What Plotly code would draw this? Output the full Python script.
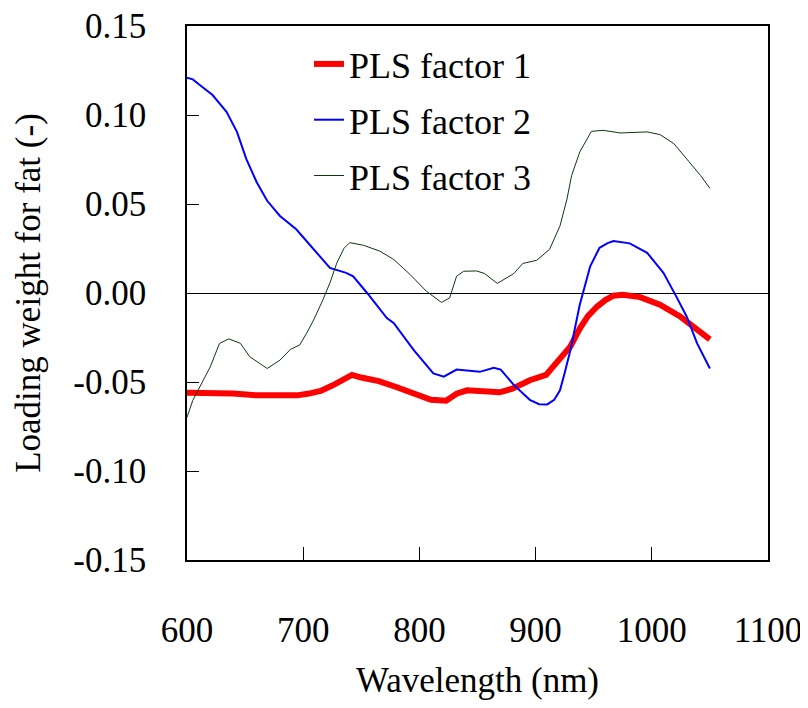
import plotly.graph_objects as go

# Wavelength (nm) and loading weights
f1_x = [600, 620, 640, 660, 680, 695, 705, 715, 725, 735, 742, 750, 765, 780, 795, 810, 823, 832, 841,
        855, 869, 880, 895, 909, 918, 924, 930, 938, 945, 953, 960, 967, 975, 990, 1007, 1024, 1039, 1050]
f1_y = [-0.056, -0.056, -0.0565, -0.0575, -0.0575, -0.0575, -0.0565, -0.055, -0.052, -0.048, -0.046,
        -0.0475, -0.0495, -0.0528, -0.0565, -0.060, -0.0605, -0.0566, -0.0547, -0.0555, -0.0558, -0.0537,
        -0.049, -0.046, -0.0395, -0.0355, -0.030, -0.020, -0.013, -0.0076, -0.004, -0.0015, -0.001,
        -0.0023, -0.0066, -0.013, -0.0208, -0.026]

f2_x = [600, 605, 611, 622, 634, 643, 651, 660, 669, 680, 694, 709, 723, 737, 743, 755, 772, 778, 795,
        812, 821, 832, 852, 864, 870, 881, 895, 903, 910, 916, 921, 925, 930, 938, 947, 955, 962, 967,
        981, 996, 1010, 1021, 1030, 1039, 1050]
f2_y = [0.121, 0.120, 0.1169, 0.1112, 0.1018, 0.0905, 0.0754, 0.0622, 0.0518, 0.0433, 0.0358, 0.0245,
        0.0141, 0.0113, 0.0094, 0.0, -0.0141, -0.017, -0.032, -0.0452, -0.047, -0.043, -0.0443, -0.042,
        -0.043, -0.0515, -0.060, -0.0625, -0.0626, -0.060, -0.0547, -0.045, -0.032, -0.0066, 0.015,
        0.0254, 0.028, 0.0292, 0.0279, 0.0226, 0.0113, -0.0019, -0.0132, -0.0283, -0.0424]

f3_x = [600, 605, 611, 620, 628, 636, 646, 654, 669, 680, 689, 697, 703, 709, 717, 723, 729, 735, 740,
        752, 766, 778, 792, 806, 819, 826, 832, 838, 849, 856, 867, 881, 889, 901, 912, 921, 927, 931,
        938, 948, 958, 973, 996, 1007, 1019, 1030, 1042, 1050]
f3_y = [-0.0698, -0.0603, -0.0528, -0.0415, -0.0283, -0.0258, -0.0283, -0.0358, -0.0424, -0.0377,
        -0.0317, -0.0292, -0.0226, -0.0151, -0.0038, 0.0057, 0.017, 0.025, 0.0283, 0.0268, 0.0235,
        0.0188, 0.0104, 0.001, -0.0053, -0.0028, 0.0094, 0.0122, 0.0124, 0.011, 0.0054, 0.0108, 0.0166,
        0.0184, 0.0245, 0.0377, 0.0528, 0.066, 0.0792, 0.0908, 0.0914, 0.0899, 0.0905, 0.089, 0.0839,
        0.0754, 0.066, 0.0588]

x_ticks = [600, 700, 800, 900, 1000, 1100]
y_ticks = [-0.15, -0.10, -0.05, 0.00, 0.05, 0.10, 0.15]
y_tick_text = ["-0.15", "-0.10", "-0.05", "0.00", "0.05", "0.10", "0.15"]

FONT = "Liberation Serif, Times New Roman, serif"

fig = go.Figure()
fig.add_trace(go.Scatter(x=f1_x, y=f1_y, mode="lines", name="PLS factor 1", legendgroup="a",
                         line=dict(color="#ff0000", width=6)))
fig.add_trace(go.Scatter(x=f2_x, y=f2_y, mode="lines", name="PLS factor 2", legendgroup="b",
                         line=dict(color="#0000ff", width=2)))
fig.add_trace(go.Scatter(x=f3_x, y=f3_y, mode="lines", name="PLS factor 3", legendgroup="c",
                         line=dict(color="#0a3a0a", width=1)))

fig.update_layout(
    width=800, height=700,
    margin=dict(l=179, r=40, t=18, b=148, autoexpand=False),
    paper_bgcolor="white", plot_bgcolor="white",
    font=dict(family=FONT, size=35, color="black"),
    showlegend=True,
    legend=dict(x=0.21, y=0.985, xanchor="left", yanchor="top", bgcolor="rgba(0,0,0,0)",
                font=dict(family=FONT, size=36), tracegroupgap=6, traceorder="grouped"),
    xaxis=dict(range=[600, 1100], tickvals=x_ticks, ticks="inside", ticklen=13, tickwidth=1,
               tickcolor="black", showline=True, linecolor="black", linewidth=1.5, mirror=True,
               showgrid=False, zeroline=False, ticklabelstandoff=38, automargin=False,
               ticklabeloverflow="allow",
               title=dict(text="Wavelength (nm)", standoff=19, font=dict(size=35))),
    yaxis=dict(range=[-0.15, 0.15], tickvals=y_ticks, ticktext=y_tick_text, ticks="inside",
               ticklen=12, tickwidth=1, tickcolor="black", showline=True, linecolor="black",
               linewidth=1.5, mirror=True, showgrid=False, zeroline=True, zerolinecolor="black",
               zerolinewidth=1, ticklabelstandoff=32, automargin=False, ticklabeloverflow="allow",
               title=dict(text="Loading weight for fat (-)", standoff=22, font=dict(size=35))),
)

fig.write_html("out.html")
